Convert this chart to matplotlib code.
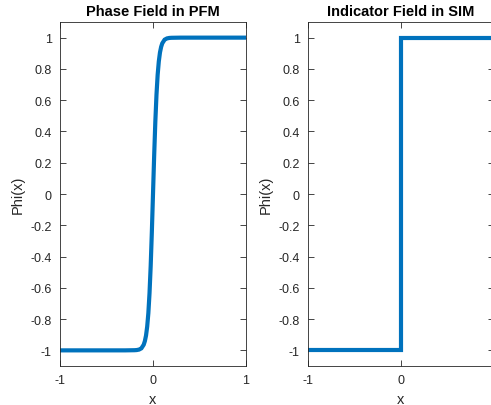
import matplotlib
matplotlib.use("Agg")
import matplotlib.pyplot as plt

plt.rcParams["font.family"] = ["Liberation Sans", "DejaVu Sans"]

# phase field profile across the interface (diffuse, width ~0.1)
pfm_x = [-1.0, -0.3, -0.2, -0.175, -0.15, -0.125, -0.1, -0.0875, -0.075,
         -0.0625, -0.05, -0.0375, -0.025, -0.0125, 0.0, 0.0125, 0.025,
         0.0375, 0.05, 0.0625, 0.075, 0.0875, 0.1, 0.125, 0.15, 0.175,
         0.2, 0.3, 1.0]
pfm_phi = [-1.0, -1.0, -0.999, -0.998, -0.995, -0.987, -0.964, -0.941,
           -0.905, -0.848, -0.762, -0.635, -0.462, -0.245, 0.0, 0.245,
           0.462, 0.635, 0.762, 0.848, 0.905, 0.941, 0.964, 0.987, 0.995,
           0.998, 0.999, 1.0, 1.0]

# sharp indicator function
sim_x = [-1.0, 0.0, 0.0, 1.0]
sim_phi = [-1.0, -1.0, 1.0, 1.0]

yticks = [-1, -0.8, -0.6, -0.4, -0.2, 0, 0.2, 0.4, 0.6, 0.8, 1]
ytick_labels = ["-1", "-0.8", "-0.6", "-0.4", "-0.2", "0", "0.2", "0.4",
                "0.6", "0.8", "1"]
pfm_xticks = [-1, 0, 1]
pfm_xtick_labels = ["-1", "0", "1"]
# right panel runs off the figure edge, so its last tick is left out
sim_xticks = [-1, 0]
sim_xtick_labels = ["-1", "0"]

W, H = 491, 406
fig = plt.figure(figsize=(W / 100, H / 100), dpi=100)
ax1 = fig.add_axes([60 / W, 39 / H, 186 / W, 344 / H])
ax2 = fig.add_axes([308 / W, 39 / H, 186 / W, 344 / H])

line_color = "#0072BD"
edge = "#262626"

panels = [
    (ax1, pfm_x, pfm_phi, pfm_xticks, pfm_xtick_labels, "Phase Field in PFM"),
    (ax2, sim_x, sim_phi, sim_xticks, sim_xtick_labels, "Indicator Field in SIM"),
]
for ax, xs, ys, xt, xtl, title in panels:
    ax.plot(xs, ys, color=line_color, linewidth=3.0, solid_joinstyle="miter")
    ax.set_xlim(-1, 1)
    ax.set_ylim(-1.1, 1.1)
    ax.set_xticks(xt)
    ax.set_xticklabels(xtl)
    ax.set_yticks(yticks)
    ax.set_yticklabels(ytick_labels)
    ax.tick_params(direction="in", top=True, right=True, length=4,
                   width=0.6, colors=edge, labelsize=9, pad=6)
    for s in ax.spines.values():
        s.set_color(edge)
        s.set_linewidth(0.6)
    ax.set_title(title, fontsize=10.5, fontweight="bold", pad=5)
    ax.set_xlabel("x", fontsize=10.5, color=edge, labelpad=4)
    ax.set_ylabel("Phi(x)", fontsize=10.5, color=edge, labelpad=4)

fig.savefig("out.png", dpi=100)
